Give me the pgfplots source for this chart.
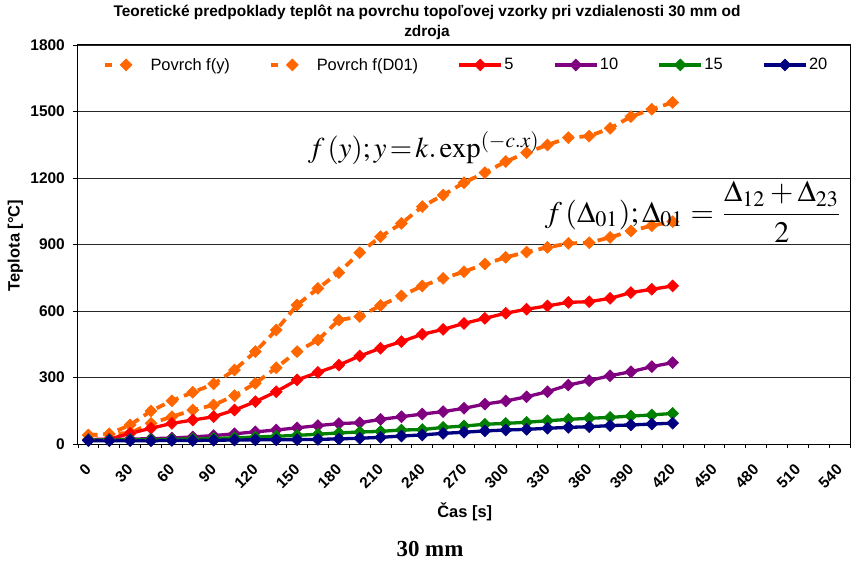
\documentclass[border=0pt]{standalone}
\usepackage{mathptmx}
\usepackage[no-math]{fontspec}
\setmainfont{Liberation Sans}
\newfontfamily\timesfont{Liberation Serif}
\usepackage{graphicx}
\usepackage{pgfplots}
\usepackage{pgfplotstable}
\pgfplotsset{compat=1.18}
\definecolor{cOrange}{HTML}{FF6600}
\definecolor{cRed}{HTML}{FF0000}
\definecolor{cPurple}{HTML}{800080}
\definecolor{cGreen}{HTML}{008000}
\definecolor{cNavy}{HTML}{000080}
\pgfplotsset{
  dashleg/.style={legend image code/.code={\draw[mark repeat=2, mark phase=2, ##1, dash pattern=on 7bp off 60bp] plot coordinates {(0bp,0bp) (21bp,0bp) (42bp,0bp)};}},
  lineleg/.style={legend image code/.code={\draw[mark repeat=2, mark phase=2, ##1] plot coordinates {(0bp,0bp) (21bp,0bp) (42bp,0bp)};}},
}
\pgfplotstableread{
t fy fd s5 s10 s15 s20
0 40 40 20 20 18 15
15 45 45 22 20 18 15
30 86 50 48 22 19 15
45 149 93 71 24 20 15
60 195 123 93 27 21 16
75 233 153 108 32 23 16
90 271 176 123 38 25 17
105 334 218 153 46 28 18
120 417 274 191 55 31 19
135 514 344 236 63 35 19
150 627 417 289 73 39 20
165 702 469 323 83 44 21
180 773 559 356 92 50 23
195 863 575 397 96 54 26
210 935 625 432 111 57 30
225 995 668 462 123 63 36
240 1071 713 495 135 65 41
255 1123 747 517 146 75 48
270 1179 777 544 161 81 53
285 1224 812 567 180 89 59
300 1274 842 590 194 93 63
315 1314 866 608 213 98 66
330 1349 887 623 236 105 71
345 1382 905 639 266 111 75
360 1389 908 642 286 116 78
375 1424 932 657 308 120 83
390 1477 961 683 326 126 86
405 1510 985 698 349 131 90
420 1541 1003 713 367 138 94
}\data
\begin{document}
\begin{tikzpicture}
\useasboundingbox (-78bp,-117bp) rectangle (775bp,444bp);
\begin{axis}[
  at={(0,0)}, anchor=south west,
  scale only axis, width=772bp, height=399bp,
  xmin=-7.5, xmax=547.5, ymin=0, ymax=1800,
  xtick={0,30,...,540},
  minor xtick={-7.5,7.5,...,547.5},
  ytick={0,300,...,1800},
  xtick pos=bottom, ytick pos=left,
  tick align=outside,
  major tick length=5bp, minor tick length=4bp,
  major x tick style={draw=none},
  minor x tick style={black, line width=0.8bp},
  major y tick style={black, line width=0.8bp},
  ymajorgrids,
  major grid style={black!85, line width=0.9bp},
  axis line style={black, line width=1bp},
  /pgf/number format/assume math mode=true,
  /pgf/number format/1000 sep={},
  xticklabel style={rotate=45, anchor=east, inner sep=0pt, font=\bfseries\fontsize{15.5}{15.5}\selectfont},
  xticklabel shift=18bp,
  yticklabel style={anchor=east, inner sep=0pt, font=\bfseries\fontsize{15.5}{15.5}\selectfont},
  yticklabel shift=8bp,
  xlabel={Čas [s]},
  ylabel={Teplota [°C]},
  xlabel style={at={(axis description cs:0.501,-0.170)}, anchor=center, font=\bfseries\fontsize{16.5}{16.5}\selectfont},
  ylabel style={at={(axis description cs:-0.081,0.4975)}, anchor=center, rotate=0, font=\bfseries\fontsize{16.5}{16.5}\selectfont},
  legend columns=6,
  legend style={at={(axis description cs:0.0324,0.95)}, anchor=west, draw=none, fill=none, inner sep=0pt,
    font=\fontsize{16.5}{16.5}\selectfont, nodes={inner sep=1.5bp},
    /tikz/every even column/.append style={column sep=38bp}},
  lineleg,
  every axis plot/.append style={mark=square*, mark size=4.2bp},
]
\addplot[cOrange, line width=3.8bp, dash pattern=on 9bp off 6bp,
  mark options={solid, rotate=45, fill=cOrange, line width=0.6bp}, dashleg]
  table[x=t, y=fy] {\data};
\addlegendentry{Povrch f(y)}
\addplot[cOrange, line width=3.8bp, dash pattern=on 9bp off 6bp,
  mark options={solid, rotate=45, fill=cOrange, line width=0.6bp}, dashleg]
  table[x=t, y=fd] {\data};
\addlegendentry{Povrch f(D01)}
\addplot[cRed, line width=3.3bp, mark options={solid, rotate=45, fill=cRed, line width=0.6bp}]
  table[x=t, y=s5] {\data};
\addlegendentry{5}
\addplot[cPurple, line width=3.3bp, mark options={solid, rotate=45, fill=cPurple, line width=0.6bp}]
  table[x=t, y=s10] {\data};
\addlegendentry{10}
\addplot[cGreen, line width=3.3bp, mark options={solid, rotate=45, fill=cGreen, line width=0.6bp}]
  table[x=t, y=s15] {\data};
\addlegendentry{15}
\addplot[cNavy, line width=3.3bp, mark options={solid, rotate=45, fill=cNavy, line width=0.6bp}]
  table[x=t, y=s20] {\data};
\addlegendentry{20}
\end{axis}
\node[align=center, font=\bfseries\fontsize{15.5}{20}\selectfont] at (349bp,422bp)
  {Teoretické predpoklady teplôt na povrchu topoľovej vzorky pri vzdialenosti 30 mm od\\zdroja};
\node[inner sep=0pt] at (346bp,296bp) {\resizebox{232bp}{!}{$f\left(y\right)\!;y\!=\!k.\exp^{\left(-c.x\right)}$}};
\node[inner sep=0pt] at (616bp,232bp) {\resizebox{298bp}{!}{$\displaystyle f\left(\Delta_{01}\right)\!; \Delta_{01} = \frac{\Delta_{12}+\Delta_{23}}{2}$}};
\node[font=\timesfont\bfseries\fontsize{23}{23}\selectfont] at (352bp,-105bp) {30 mm};
\end{tikzpicture}
\end{document}
